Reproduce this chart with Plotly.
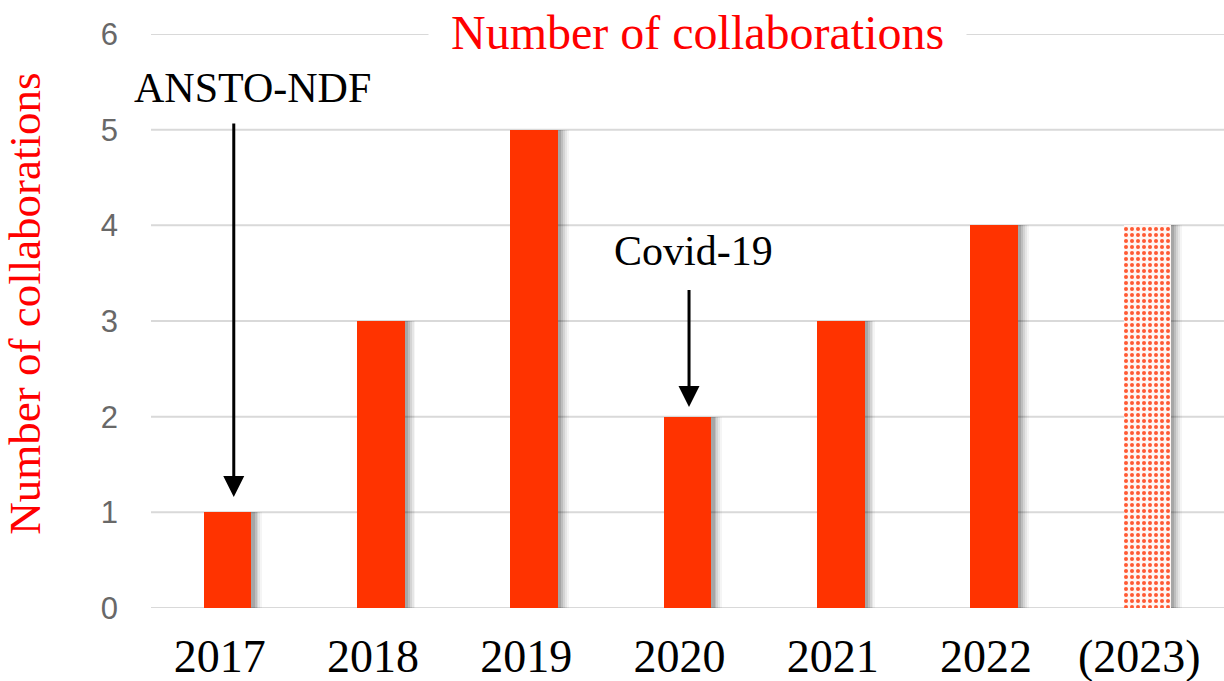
import plotly.graph_objects as go

# Collaborations per year; the last year is provisional
years = ["2017", "2018", "2019", "2020", "2021", "2022", "(2023)"]
counts = [1, 3, 5, 2, 3, 4, 4]
provisional = [False, False, False, False, False, False, True]

y_ticks = [0, 1, 2, 3, 4, 5, 6]

BAR_RED = "#FF3300"
TITLE_RED = "#FF0000"
SERIF = "Liberation Serif, Times New Roman, serif"
SANS = "Liberation Sans, Arial, sans-serif"

bar_w = 0.31

fig = go.Figure()

# soft drop shadow on the right of each bar (layered translucent bars)
for shift, alpha in [(0.07, 0.04), (0.058, 0.06), (0.046, 0.08), (0.034, 0.10), (0.022, 0.12)]:
    fig.add_trace(go.Bar(
        x=years, y=counts, width=bar_w, offset=-bar_w / 2 + shift,
        marker=dict(color=f"rgba(0,0,0,{alpha})", line=dict(width=0)),
        hoverinfo="skip", showlegend=False,
    ))

# confirmed years: solid bars
fig.add_trace(go.Bar(
    x=[y for y, p in zip(years, provisional) if not p],
    y=[c for c, p in zip(counts, provisional) if not p],
    width=bar_w, offset=-bar_w / 2,
    marker=dict(color=BAR_RED, line=dict(width=0)),
    showlegend=False,
))

# provisional year: dotted fill
fig.add_trace(go.Bar(
    x=[y for y, p in zip(years, provisional) if p],
    y=[c for c, p in zip(counts, provisional) if p],
    width=bar_w, offset=-bar_w / 2,
    marker=dict(
        color="white", line=dict(width=0),
        pattern=dict(shape=".", fgcolor="#FF5A33", bgcolor="#FFF6F3",
                     size=6, solidity=0.35, fillmode="replace"),
    ),
    showlegend=False,
))

# horizontal gridlines across the full plot width
shapes = [
    dict(type="line", xref="paper", x0=0, x1=1, yref="y", y0=v, y1=v,
         line=dict(color="#D9D9D9", width=2), layer="below")
    for v in y_ticks
]

annotations = [
    # chart title sitting on the top gridline
    dict(text="Number of collaborations", xref="paper", yref="y",
         x=0.509, y=6, yshift=2, showarrow=False,
         font=dict(family=SERIF, size=48, color=TITLE_RED),
         bgcolor="white", borderpad=22, xanchor="center", yanchor="middle"),
    # vertical axis title
    dict(text="Number of collaborations", xref="paper", yref="paper",
         x=0, xshift=-126, y=0.53, textangle=-90, showarrow=False,
         font=dict(family=SERIF, size=45, color=TITLE_RED),
         xanchor="center", yanchor="middle"),
    # event labels
    dict(text="ANSTO-NDF", xref="x", yref="y", x=0.16, y=5.44, showarrow=False,
         font=dict(family=SERIF, size=42, color="black"), xanchor="center", yanchor="middle"),
    dict(text="Covid-19", xref="x", yref="y", x=3.04, y=3.73, showarrow=False,
         font=dict(family=SERIF, size=42, color="black"), xanchor="center", yanchor="middle"),
    # arrows pointing to the bars
    dict(text="", xref="x", yref="y", x=0.04, y=counts[0] + 0.16,
         axref="x", ayref="y", ax=0.04, ay=5.08,
         showarrow=True, arrowhead=2, arrowsize=1.4, arrowwidth=3, arrowcolor="black"),
    dict(text="", xref="x", yref="y", x=3.01, y=counts[3] + 0.1,
         axref="x", ayref="y", ax=3.01, ay=3.34,
         showarrow=True, arrowhead=2, arrowsize=1.4, arrowwidth=3, arrowcolor="black"),
]

fig.update_layout(
    width=1224, height=681,
    margin=dict(l=151, r=0, t=34, b=73),
    paper_bgcolor="white", plot_bgcolor="white",
    barmode="overlay", bargap=0,
    shapes=shapes,
    annotations=annotations,
    xaxis=dict(
        type="category", categoryorder="array", categoryarray=years,
        range=[-0.5, 6.5], showgrid=False, showline=False, zeroline=False,
        ticks="", tickfont=dict(family=SERIF, size=46, color="black"),
        ticklabelstandoff=17, ticklabelshift=-8,
    ),
    yaxis=dict(
        range=[0, 6], tickvals=y_ticks, showgrid=False,
        zeroline=False, showline=False, ticks="",
        tickfont=dict(family=SANS, size=31, color="#686868"),
        ticklabelstandoff=32,
    ),
)

fig.write_html("out.html")
